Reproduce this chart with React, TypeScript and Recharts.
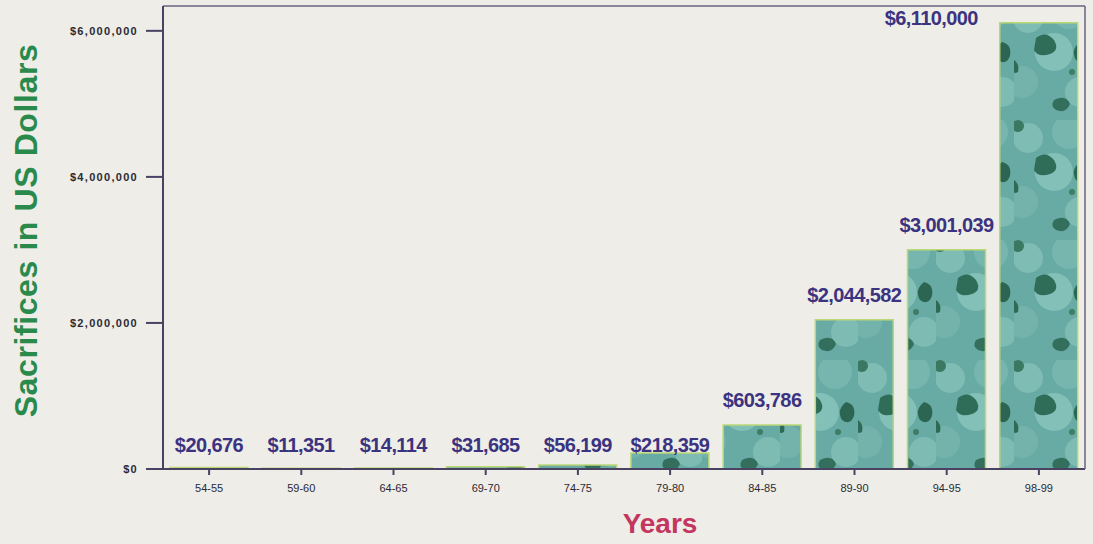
import React from 'react';
import { BarChart, Bar, XAxis, YAxis, LabelList, Label } from 'recharts';

const years = ['54-55', '59-60', '64-65', '69-70', '74-75', '79-80', '84-85', '89-90', '94-95', '98-99'];
const sacrifices = [20676, 11351, 14114, 31685, 56199, 218359, 603786, 2044582, 3001039, 6110000];
const yTicks = [0, 2000000, 4000000, 6000000];

const data = years.map((y, i) => ({ year: y, value: sacrifices[i] }));

const fmt = (v: number) => '$' + v.toLocaleString('en-US');

const VALUE_COLOR = '#3b3380';
const AXIS_COLOR = '#4a4262';

const ValueLabel = (props: any) => {
  const { x, y, width, height, value } = props;
  const bx = Number(x), by = Number(y), bw = Number(width), bh = Number(height);
  const axisY = by + bh;
  let tx = bx + bw / 2;
  let ty: number;
  let anchor: 'middle' | 'end' = 'middle';
  if (by < 60) {
    anchor = 'end';
    tx = bx - 22;
    ty = by + 2;
  } else if (bh < 30) {
    ty = axisY - 17;
  } else {
    ty = by - 18;
  }
  return (
    <text x={tx} y={ty} textAnchor={anchor} fill={VALUE_COLOR} fontSize={20} fontWeight="bold"
      letterSpacing={-0.6}
      fontFamily="'Liberation Sans', Arial, sans-serif">
      {fmt(Number(value))}
    </text>
  );
};

const YTitle = (props: any) => {
  const vb = props.viewBox || {};
  const cx = 26;
  const cy = (vb.y ?? 6) + (vb.height ?? 463) / 2 - 7;
  return (
    <text x={cx} y={cy} transform={`rotate(-90 ${cx} ${cy})`} textAnchor="middle"
      dominantBaseline="central" fill="#2a8a4c" fontSize={32} fontWeight="bold" letterSpacing={0.6}
      fontFamily="'Liberation Sans', Arial, sans-serif">
      Sacrifices in US Dollars
    </text>
  );
};

const XTitle = (props: any) => {
  const vb = props.viewBox || {};
  const cx = (vb.x ?? 163) + (vb.width ?? 922) / 2 + 36;
  return (
    <text x={cx} y={533} textAnchor="middle" fill="#c4365f" fontSize={28} fontWeight="bold"
      fontFamily="'Liberation Sans', Arial, sans-serif">
      Years
    </text>
  );
};

export default function App() {
  return (
    <div style={{ position: 'absolute', left: 0, top: 0, width: 1093, height: 544, background: '#eeede8' }}>
      <BarChart width={1093} height={544} data={data}
        margin={{ top: 5, right: 7, bottom: 45, left: 0 }} barCategoryGap="7.5%">
        <defs>
          <pattern id="tex" patternUnits="userSpaceOnUse" width="78" height="120" x="0" y="0">
            <rect x="0" y="0" width="78" height="120" fill="#68aba4" />
            <circle cx="14" cy="18" r="15" fill="#7ebcb4" />
            <circle cx="55" cy="12" r="17" fill="#77b6ae" />
            <circle cx="40" cy="52" r="19" fill="#82c0b8" />
            <circle cx="8" cy="82" r="16" fill="#74b3ab" />
            <circle cx="66" cy="92" r="15" fill="#7dbbb3" />
            <path d="M22 38 q10 -8 18 2 q6 10 -4 14 q-12 4 -16 -4 z" fill="#2f6d58" />
            <path d="M66 42 q10 2 8 14 q-4 10 -12 4 q-6 -10 4 -18 z" fill="#2c6652" />
            <path d="M40 100 q12 -6 16 4 q-4 10 -14 6 q-6 -4 -2 -10 z" fill="#336f5c" />
            <circle cx="4" cy="6" r="6" fill="#3a7862" />
            <circle cx="58" cy="72" r="3" fill="#3f7c66" />
            <path d="M0 60 q6 4 4 12 q-4 2 -4 0 z" fill="#2f6a56" />
          </pattern>
        </defs>
        <XAxis dataKey="year" axisLine={{ stroke: AXIS_COLOR, strokeWidth: 2 }}
          tickLine={{ stroke: AXIS_COLOR, strokeWidth: 2 }} tickSize={6} tickMargin={9}
          tick={{ fill: '#2a2a35', fontSize: 11, fontFamily: "'Liberation Sans', Arial, sans-serif" }}
          interval={0} height={30}>
          <Label content={<XTitle />} />
        </XAxis>
        <XAxis xAxisId="top" orientation="top" dataKey="year" tick={false} tickLine={false}
          axisLine={{ stroke: '#6a6480', strokeWidth: 1.5 }} height={1} />
        <YAxis width={163} domain={[0, 6340000]} ticks={yTicks} allowDataOverflow
          tickFormatter={(v: number) => fmt(v)} tickSize={17} tickMargin={8}
          axisLine={{ stroke: AXIS_COLOR, strokeWidth: 2 }}
          tickLine={{ stroke: AXIS_COLOR, strokeWidth: 2 }}
          tick={{ fill: '#2a2a35', fontSize: 11, fontWeight: 600, letterSpacing: 1.3, fontFamily: "'Liberation Sans', Arial, sans-serif" }}>
          <Label content={<YTitle />} />
        </YAxis>
        <YAxis yAxisId="right" orientation="right" width={1} tick={false} tickLine={false}
          axisLine={{ stroke: '#6a6480', strokeWidth: 1.5 }} />
        <Bar dataKey="value" fill="url(#tex)" stroke="#bcd876" strokeWidth={1.5} isAnimationActive={false}>
          <LabelList dataKey="value" content={<ValueLabel />} />
        </Bar>
      </BarChart>
    </div>
  );
}
